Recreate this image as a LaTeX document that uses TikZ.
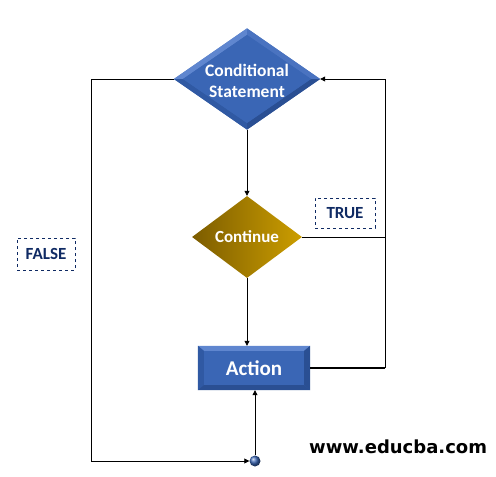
\documentclass[tikz,border=0pt]{standalone}
\usepackage{fontspec}
\setmainfont{Carlito}
\newfontfamily\webfont{DejaVu Sans}
\usetikzlibrary{shapes.geometric,arrows.meta}
\definecolor{bluemain}{HTML}{3A66B5}
\definecolor{bluelight}{HTML}{5F86CF}
\definecolor{bluemid}{HTML}{4A73C0}
\definecolor{bluedark}{HTML}{2A4F93}
\definecolor{bluedark2}{HTML}{3059A3}
\definecolor{navy}{HTML}{0F2A63}
\definecolor{golddark}{HTML}{7C5C00}
\definecolor{goldlight}{HTML}{CC9E00}
\tikzset{
  conn/.style={draw=black, line width=0.8pt},
  arr/.style={conn, -{Triangle[length=5pt,width=5pt]}},
  lbl/.style={draw=navy, dashed, line width=0.6pt, text=navy, font=\bfseries\fontsize{17}{18}\selectfont, inner sep=0pt},
  wtext/.style={text=white, font=\bfseries\fontsize{17.5}{21}\selectfont, align=center}
}
\begin{document}
\begin{tikzpicture}[x=1pt,y=-1pt]
\useasboundingbox (0,0) rectangle (496,477);
% Conditional diamond
\node[diamond, minimum width=146pt, minimum height=101pt, inner sep=0pt, fill=bluemain] (cond) at (247,79) {};
\fill[bluelight] (cond.west) -- (cond.north) -- (247,35) -- (183,79) -- cycle;
\fill[bluemid] (cond.north) -- (cond.east) -- (311,79) -- (247,35) -- cycle;
\fill[bluedark] (cond.east) -- (cond.south) -- (247,123) -- (311,79) -- cycle;
\fill[bluedark2] (cond.south) -- (cond.west) -- (183,79) -- (247,123) -- cycle;
\fill[bluemain] (183,79) -- (247,35) -- (311,79) -- (247,123) -- cycle;
\node[wtext] (condtxt) at (247,81) {Conditional\\Statement};
% Continue diamond
\node[diamond, minimum width=110pt, minimum height=82pt, inner sep=0pt, left color=golddark, right color=goldlight, text=white, font=\bfseries\fontsize{17}{19}\selectfont] (cont) at (247,237) {Continue};
% Action box
\node[rectangle, minimum width=112pt, minimum height=44pt, inner sep=0pt, fill=bluemain] (act) at (254,368) {};
\fill[bluelight] (act.north west) -- (act.north east) -- ([xshift=-6pt,yshift=-5pt]act.north east) -- ([xshift=6pt,yshift=-5pt]act.north west) -- cycle;
\fill[bluedark2] (act.north west) -- ([xshift=6pt,yshift=-5pt]act.north west) -- ([xshift=6pt,yshift=5pt]act.south west) -- (act.south west) -- cycle;
\fill[bluedark] (act.north east) -- (act.south east) -- ([xshift=-6pt,yshift=5pt]act.south east) -- ([xshift=-6pt,yshift=-5pt]act.north east) -- cycle;
\fill[bluedark] (act.south west) -- (act.south east) -- ([xshift=-6pt,yshift=5pt]act.south east) -- ([xshift=6pt,yshift=5pt]act.south west) -- cycle;
\node[text=white, font=\bfseries\fontsize{21}{24}\selectfont] (acttxt) at (254,368) {Action};
% Dot
\node[circle, minimum size=11pt, inner sep=0pt, ball color=bluemain] (dot) at (255,461) {};
% Labels
\node[lbl, minimum width=60pt, minimum height=30pt] (true) at (345,213) {TRUE};
\node[lbl, minimum width=58pt, minimum height=32pt] (false) at (46,254) {FALSE};
\node[font=\webfont\bfseries\fontsize{18}{21}\selectfont, anchor=west, inner sep=0pt] (web) at (309,447) {www.educba.com};
% Connectors
\coordinate (rt) at (385,79);
\coordinate (rb) at (385,368);
\coordinate (lt) at (91,79);
\coordinate (lb) at (91,461);
\draw[arr] (cond.south) -- (cont.north);
\draw[arr] (cont.south) -- (act.north -| cont.south);
\draw[conn] (cont.east) -- (cont.east -| rt);
\draw[conn, line width=1.3pt] (act.east) -- (rb);
\draw[conn] (rb) -- (rt);
\draw[arr] (rt) -- (cond.east);
\draw[conn] (cond.west) -- (lt) -- (lb);
\draw[arr] (lb) -- (dot.west);
\draw[arr] (dot.north) -- (act.south -| dot.north);
\end{tikzpicture}
\end{document}
